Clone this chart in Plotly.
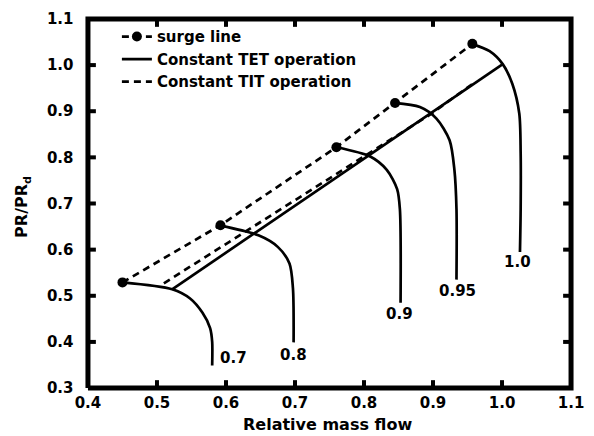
import numpy as np
import plotly.graph_objects as go

# Surge line points
surge_x = [0.450, 0.592, 0.760, 0.845, 0.957]
surge_y = [0.529, 0.653, 0.822, 0.918, 1.046]

# Constant TET operation (solid)
tet_x = [0.522, 1.000]
tet_y = [0.514, 1.001]

# Constant TIT operation (dashed)
tit_x = [0.510, 0.895, 0.958]
tit_y = [0.527, 0.892, 0.960]

# Speed lines
speed_labels = ["0.7", "0.8", "0.9", "0.95", "1.0"]
speed_x = [
    [0.450, 0.522, 0.548, 0.566, 0.577, 0.580, 0.580],
    [0.592, 0.647, 0.675, 0.692, 0.697, 0.698],
    [0.760, 0.809, 0.833, 0.848, 0.852, 0.853],
    [0.844, 0.881, 0.905, 0.924, 0.931, 0.934, 0.934],
    [0.956, 0.982, 1.001, 1.015, 1.025, 1.027, 1.027, 1.026],
]
speed_y = [
    [0.529, 0.514, 0.494, 0.463, 0.430, 0.400, 0.349],
    [0.652, 0.631, 0.606, 0.570, 0.517, 0.399],
    [0.822, 0.802, 0.773, 0.731, 0.688, 0.485],
    [0.918, 0.909, 0.884, 0.837, 0.773, 0.688, 0.535],
    [1.046, 1.030, 1.002, 0.959, 0.895, 0.809, 0.688, 0.595],
]
label_x = [0.611, 0.698, 0.852, 0.936, 1.023]
label_y = [0.366, 0.372, 0.460, 0.510, 0.574]

x_range = [0.4, 1.1]
y_range = [0.3, 1.1]
tick_step = 0.1
x_title = "Relative mass flow"
y_title = "PR/PR<sub>d</sub>"

FONT = "DejaVu Sans"
NB = "\u00a0"

W, H = 594, 436
PAD = 4  # px of room around the frame so its thick line is not clipped
M = dict(l=88 - PAD, r=18 - PAD, t=14 - PAD, b=48 - PAD)


def font(size):
    return dict(family=FONT, size=size, color="black")


def b(t):
    return f"<b>{t}</b>"


x0, x1 = x_range
y0, y1 = y_range
px_per_x = (W - 88 - 18) / (x1 - x0)
px_per_y = (H - 14 - 48) / (y1 - y0)
pad_x = PAD / px_per_x
pad_y = PAD / px_per_y
x_view = [x0 - pad_x, x1 + pad_x]
y_view = [y0 - pad_y, y1 + pad_y]

fig = go.Figure()

# ---- frame and inward ticks on all four sides (helper traces) ----
tlen_x = 8 / px_per_x
tlen_y = 8 / px_per_y
xt = np.round(np.arange(x0 + tick_step, x1 - tick_step / 2, tick_step), 3)
yt = np.round(np.arange(y0 + tick_step, y1 - tick_step / 2, tick_step), 3)

tick_x, tick_y = [], []
for v in xt:
    tick_x += [v, v, None, v, v, None]
    tick_y += [y0, y0 + tlen_y, None, y1, y1 - tlen_y, None]
for v in yt:
    tick_x += [x0, x0 + tlen_x, None, x1, x1 - tlen_x, None]
    tick_y += [v, v, None, v, v, None]

fig.add_trace(go.Scatter(x=tick_x, y=tick_y, mode="lines", cliponaxis=False,
                         line=dict(color="black", width=4),
                         showlegend=False, hoverinfo="skip"))
fig.add_trace(go.Scatter(x=[x0, x1, x1, x0, x0], y=[y0, y0, y1, y1, y0], mode="lines",
                         cliponaxis=False, line=dict(color="black", width=5),
                         showlegend=False, hoverinfo="skip"))

# ---- speed lines ----
for sx, sy in zip(speed_x, speed_y):
    fig.add_trace(go.Scatter(x=sx, y=sy, mode="lines",
                             line=dict(color="black", width=2.7, shape="spline", smoothing=0.8),
                             showlegend=False, hoverinfo="skip"))

fig.add_trace(go.Scatter(x=surge_x, y=surge_y, mode="lines+markers", name=b("surge line"),
                         line=dict(color="black", width=2.7, dash="7px,5px"),
                         marker=dict(color="black", size=10)))
fig.add_trace(go.Scatter(x=tet_x, y=tet_y, mode="lines", name=b("Constant TET operation"),
                         line=dict(color="black", width=2.7)))
fig.add_trace(go.Scatter(x=tit_x, y=tit_y, mode="lines", name=b("Constant TIT operation"),
                         line=dict(color="black", width=2.7, dash="7px,5px")))

for lx, ly, lt in zip(label_x, label_y, speed_labels):
    fig.add_annotation(x=lx, y=ly, text=b(lt), showarrow=False, font=font(15))

# axis titles (paper coordinates)
fig.add_annotation(xref="paper", yref="paper", x=0.496, y=-0.086, text=b(x_title),
                   showarrow=False, font=font(16), xanchor="center", yanchor="middle")
fig.add_annotation(xref="paper", yref="paper", x=-0.125, y=0.49, text=b(y_title),
                   showarrow=False, font=font(16), textangle=-90,
                   xanchor="center", yanchor="middle")

fig.update_layout(
    width=W, height=H,
    margin=M,
    plot_bgcolor="white", paper_bgcolor="white",
    font=font(15),
    xaxis=dict(range=x_view, tick0=x0, dtick=tick_step, tickformat=".1f",
               showline=False, ticks="", showgrid=False, zeroline=False, tickfont=font(15),
               tickprefix="<b>", ticksuffix="</b>"),
    yaxis=dict(range=y_view, tick0=y0, dtick=tick_step, tickformat=".1f",
               showline=False, ticks="", showgrid=False, zeroline=False, tickfont=font(15),
               tickprefix="<b>", ticksuffix="</b>" + NB + NB),
    legend=dict(x=0.067, y=0.986, xanchor="left", yanchor="top", bgcolor="rgba(0,0,0,0)",
                font=font(15)),
)

fig.write_html("out.html")
